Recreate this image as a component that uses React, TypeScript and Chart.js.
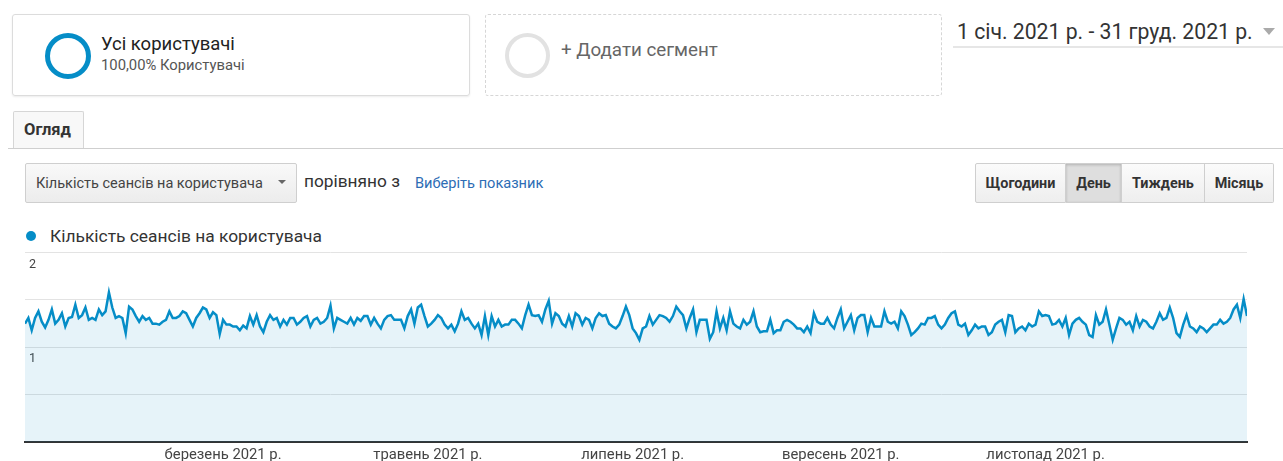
import React, { useEffect, useRef } from "react";
import { Chart, registerables } from "chart.js";

Chart.register(...registerables);

// ---- Data (sessions per user, daily, 2021) ----
const jan = [1.25, 1.31, 1.18, 1.31, 1.38, 1.27, 1.21, 1.29, 1.40, 1.25, 1.29, 1.36, 1.22, 1.31, 1.32, 1.45, 1.31, 1.34, 1.42, 1.29, 1.31, 1.29, 1.40, 1.34, 1.38, 1.58, 1.42, 1.31, 1.33, 1.31, 1.15];
const feb = [1.43, 1.40, 1.33, 1.27, 1.33, 1.29, 1.31, 1.25, 1.25, 1.24, 1.27, 1.29, 1.38, 1.31, 1.31, 1.33, 1.38, 1.36, 1.29, 1.22, 1.31, 1.36, 1.42, 1.40, 1.31, 1.37, 1.34, 1.14];
const mar = [1.29, 1.24, 1.24, 1.22, 1.22, 1.18, 1.23, 1.20, 1.33, 1.24, 1.34, 1.22, 1.16, 1.27, 1.34, 1.29, 1.31, 1.22, 1.29, 1.24, 1.31, 1.31, 1.24, 1.27, 1.31, 1.33, 1.22, 1.29, 1.31, 1.25, 1.27];
const apr = [1.31, 1.44, 1.20, 1.31, 1.29, 1.27, 1.25, 1.31, 1.24, 1.31, 1.28, 1.33, 1.33, 1.24, 1.31, 1.25, 1.20, 1.29, 1.33, 1.34, 1.29, 1.29, 1.29, 1.20, 1.33, 1.40, 1.25, 1.42, 1.45, 1.33];
const may = [1.22, 1.25, 1.29, 1.34, 1.31, 1.24, 1.20, 1.24, 1.17, 1.25, 1.38, 1.29, 1.31, 1.25, 1.20, 1.25, 1.13, 1.33, 1.13, 1.33, 1.22, 1.29, 1.22, 1.24, 1.24, 1.29, 1.29, 1.25, 1.20, 1.34, 1.45];
const jun = [1.34, 1.33, 1.34, 1.27, 1.40, 1.49, 1.25, 1.36, 1.33, 1.25, 1.22, 1.33, 1.22, 1.36, 1.33, 1.24, 1.31, 1.29, 1.20, 1.31, 1.36, 1.33, 1.34, 1.25, 1.22, 1.20, 1.24, 1.33, 1.43, 1.34];
const jul = [1.20, 1.15, 1.08, 1.20, 1.22, 1.33, 1.24, 1.29, 1.34, 1.33, 1.31, 1.27, 1.33, 1.43, 1.38, 1.34, 1.20, 1.31, 1.40, 1.16, 1.29, 1.29, 1.29, 1.09, 1.16, 1.38, 1.20, 1.31, 1.18, 1.38, 1.25];
const aug = [1.22, 1.20, 1.29, 1.24, 1.27, 1.38, 1.22, 1.16, 1.17, 1.17, 1.29, 1.15, 1.18, 1.18, 1.27, 1.29, 1.27, 1.24, 1.20, 1.20, 1.16, 1.22, 1.15, 1.36, 1.27, 1.25, 1.25, 1.31, 1.24, 1.20, 1.31];
const sep = [1.40, 1.20, 1.27, 1.34, 1.18, 1.31, 1.34, 1.34, 1.16, 1.31, 1.22, 1.22, 1.22, 1.38, 1.27, 1.25, 1.27, 1.20, 1.38, 1.33, 1.24, 1.13, 1.16, 1.20, 1.25, 1.24, 1.31, 1.31, 1.33, 1.24];
const oct = [1.20, 1.24, 1.31, 1.36, 1.38, 1.24, 1.22, 1.25, 1.13, 1.18, 1.24, 1.20, 1.22, 1.22, 1.13, 1.16, 1.24, 1.27, 1.29, 1.16, 1.34, 1.33, 1.16, 1.20, 1.22, 1.18, 1.25, 1.22, 1.24, 1.38, 1.33];
const nov = [1.34, 1.33, 1.24, 1.25, 1.29, 1.22, 1.31, 1.13, 1.25, 1.29, 1.31, 1.27, 1.24, 1.13, 1.11, 1.34, 1.24, 1.27, 1.40, 1.24, 1.08, 1.20, 1.31, 1.29, 1.24, 1.27, 1.18, 1.33, 1.22, 1.29];
const dec = [1.27, 1.22, 1.20, 1.27, 1.36, 1.29, 1.31, 1.42, 1.31, 1.15, 1.11, 1.24, 1.34, 1.22, 1.20, 1.16, 1.22, 1.20, 1.16, 1.20, 1.24, 1.24, 1.29, 1.25, 1.27, 1.31, 1.40, 1.45, 1.31, 1.51, 1.33];

const sessionsPerUser = [...jan, ...feb, ...mar, ...apr, ...may, ...jun, ...jul, ...aug, ...sep, ...oct, ...nov, ...dec];

const seriesName = "Кількість сеансів на користувача";
const xTickDays = [59, 120, 181, 243, 304];
const xTickLabels = ["березень 2021 р.", "травень 2021 р.", "липень 2021 р.", "вересень 2021 р.", "листопад 2021 р."];
const yTickLabelled = [1, 2];
const periodButtons = ["Щогодини", "День", "Тиждень", "Місяць"];
const periodWidths = [91, 56, 83, 69];
const selectedPeriod = "День";

const BLUE = "#058dc7";
const FONT = "Roboto, 'Liberation Sans', Arial, sans-serif";

function Txt(props: { x: number; cy: number; size: number; color?: string; bold?: boolean; lh?: number; children: React.ReactNode }) {
  const lh = props.lh ?? Math.round(props.size * 1.2);
  return (
    <div
      style={{
        position: "absolute",
        left: props.x,
        top: props.cy - lh / 2,
        lineHeight: lh + "px",
        fontSize: props.size,
        color: props.color ?? "#333",
        fontWeight: props.bold ? 700 : 400,
        whiteSpace: "nowrap",
        fontFamily: FONT,
      }}
    >
      {props.children}
    </div>
  );
}

function Tri(props: { x: number; cy: number; w: number; color: string }) {
  const h = props.w * 0.55;
  return (
    <div
      style={{
        position: "absolute",
        left: props.x,
        top: props.cy - h / 2,
        width: 0,
        height: 0,
        borderLeft: `${props.w / 2}px solid transparent`,
        borderRight: `${props.w / 2}px solid transparent`,
        borderTop: `${h}px solid ${props.color}`,
      }}
    />
  );
}

export default function App() {
  const canvasRef = useRef<HTMLCanvasElement | null>(null);

  useEffect(() => {
    if (!canvasRef.current) return;
    const chart = new Chart(canvasRef.current, {
      type: "line",
      data: {
        datasets: [
          {
            label: seriesName,
            data: sessionsPerUser.map((y, i) => ({ x: i, y })),
            borderColor: BLUE,
            backgroundColor: "rgba(5,141,199,0.1)",
            fill: "origin",
            borderWidth: 2.5,
            pointRadius: 0,
            tension: 0,
          },
        ],
      },
      options: {
        animation: false,
        responsive: false,
        maintainAspectRatio: false,
        layout: { padding: { left: 17, right: 36, top: 0, bottom: 0 } },
        plugins: { legend: { display: false }, tooltip: { enabled: false } },
        scales: {
          x: {
            type: "linear",
            min: 0,
            max: sessionsPerUser.length - 1,
            grid: { display: false, drawTicks: false },
            border: { display: true, color: "#333", width: 2 },
            afterBuildTicks: (scale: any) => {
              scale.ticks = xTickDays.map((v) => ({ value: v }));
            },
            ticks: {
              autoSkip: false,
              maxRotation: 0,
              padding: 4,
              color: "#444",
              font: { family: FONT, size: 14.8 },
              callback: (v: any) => {
                const i = xTickDays.indexOf(Number(v));
                return i >= 0 ? xTickLabels[i] : "";
              },
            },
          },
          y: {
            min: 0,
            max: 2,
            grid: { color: "#e3e3e3", drawTicks: false },
            border: { display: false },
            ticks: {
              stepSize: 0.5,
              mirror: true,
              padding: 4,
              labelOffset: 12,
              color: "#444",
              font: { family: FONT, size: 12.5 },
              callback: (v: any) => (yTickLabelled.includes(Number(v)) ? String(v) : ""),
            },
          },
        },
      },
    } as any);
    return () => chart.destroy();
  }, []);

  let bx = 975;
  const buttons = periodButtons.map((b, i) => {
    const left = bx;
    bx += periodWidths[i];
    const sel = b === selectedPeriod;
    return (
      <div
        key={b}
        style={{
          position: "absolute",
          left,
          top: 163,
          width: periodWidths[i],
          height: 40,
          boxSizing: "border-box",
          border: "1px solid #cfcfcf",
          borderLeft: i === 0 ? "1px solid #cfcfcf" : "none",
          borderRadius: i === 0 ? "2px 0 0 2px" : i === periodButtons.length - 1 ? "0 2px 2px 0" : 0,
          background: sel ? "#dedede" : "linear-gradient(#fbfbfb, #eeeeee)",
          boxShadow: sel ? "inset 0 1px 3px rgba(0,0,0,0.2)" : "none",
          display: "flex",
          alignItems: "center",
          justifyContent: "center",
          fontFamily: FONT,
          fontWeight: 700,
          fontSize: 14.4,
          color: "#333",
        }}
      >
        {b}
      </div>
    );
  });

  return (
    <div
      style={{
        position: "absolute",
        left: 0,
        top: 0,
        width: 1283,
        height: 461,
        overflow: "hidden",
        background: "#fff",
        fontFamily: FONT,
      }}
    >
      {/* Segment 1 */}
      <div
        style={{
          position: "absolute",
          left: 12,
          top: 14,
          width: 458,
          height: 82,
          boxSizing: "border-box",
          border: "1px solid #dcdcdc",
          borderRadius: 3,
          boxShadow: "0 1px 2px rgba(0,0,0,0.08)",
        }}
      />
      <div
        style={{
          position: "absolute",
          left: 45,
          top: 33,
          width: 46,
          height: 46,
          boxSizing: "border-box",
          border: `5px solid ${BLUE}`,
          borderRadius: "50%",
        }}
      />
      <Txt x={101} cy={44} size={18.5} color="#222">Усі користувачі</Txt>
      <Txt x={101} cy={65} size={14.8} color="#555">100,00% Користувачі</Txt>

      {/* Segment 2 */}
      <div
        style={{
          position: "absolute",
          left: 485,
          top: 14,
          width: 457,
          height: 82,
          boxSizing: "border-box",
          border: "1px dashed #d6d6d6",
          borderRadius: 3,
        }}
      />
      <div
        style={{
          position: "absolute",
          left: 505,
          top: 33,
          width: 45,
          height: 45,
          boxSizing: "border-box",
          border: "4px solid #e2e2e2",
          borderRadius: "50%",
        }}
      />
      <Txt x={561} cy={50} size={18.8} color="#666">+ Додати сегмент</Txt>

      {/* Date range */}
      <Txt x={957} cy={31} size={21.2} color="#333">1 січ. 2021 р. - 31 груд. 2021 р.</Txt>
      <Tri x={1263} cy={32} w={13} color="#aaa" />
      <div style={{ position: "absolute", left: 953, top: 46, width: 330, height: 2, background: "#e6e6e6" }} />

      {/* Tab */}
      <div
        style={{
          position: "absolute",
          left: 13,
          top: 111,
          width: 71,
          height: 38,
          boxSizing: "border-box",
          border: "1px solid #d6d6d6",
          borderBottom: "none",
          borderRadius: "2px 2px 0 0",
          background: "#f8f8f8",
        }}
      />
      <div style={{ position: "absolute", left: 8, top: 148, width: 1275, height: 1, background: "#cfcfcf" }} />
      <Txt x={24} cy={130} size={16.5} bold color="#333">Огляд</Txt>

      {/* Metric selector */}
      <div
        style={{
          position: "absolute",
          left: 25,
          top: 163,
          width: 272,
          height: 40,
          boxSizing: "border-box",
          border: "1px solid #cfcfcf",
          borderRadius: 2,
          background: "linear-gradient(#f9f9f9, #ececec)",
        }}
      />
      <Txt x={36} cy={183} size={14.5} color="#444">Кількість сеансів на користувача</Txt>
      <Tri x={278} cy={182} w={9} color="#666" />
      <Txt x={304} cy={181} size={17.3} color="#333">порівняно з</Txt>
      <Txt x={415} cy={183} size={14.6} color="#2d6db5">Виберіть показник</Txt>

      {buttons}

      {/* Legend */}
      <div
        style={{
          position: "absolute",
          left: 26,
          top: 231,
          width: 10,
          height: 10,
          borderRadius: "50%",
          background: BLUE,
        }}
      />
      <Txt x={50} cy={236} size={17.4} color="#333">{seriesName}</Txt>

      {/* Chart */}
      <div style={{ position: "absolute", left: 0, top: 241, width: 1283, height: 227 }}>
        <canvas ref={canvasRef} width={1283} height={227} style={{ display: "block", width: 1283, height: 227 }} />
      </div>
    </div>
  );
}
